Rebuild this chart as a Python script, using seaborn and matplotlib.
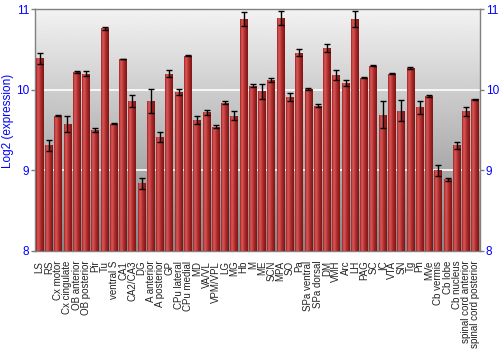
import numpy as np
import pandas as pd
import matplotlib
matplotlib.use("Agg")
import matplotlib.pyplot as plt
import seaborn as sns
from matplotlib.colors import LinearSegmentedColormap

regions = ["LS", "RS", "Cx motor", "Cx cingulate", "OB anterior", "OB posterior", "Pir", "Tu",
           "ventral S", "CA1", "CA2/CA3", "DG", "A anterior", "A posterior", "GP", "CPu lateral",
           "CPu medial", "MD", "VA/VL", "VPM/VPL", "LG", "MG", "Hb", "M",
           "ME", "SCN", "MPA", "SO", "Pa", "SPa ventral", "SPa dorsal", "DM",
           "VMH", "Arc", "LH", "PAG", "SC", "IC", "VTA", "SN",
           "Tg", "Pn", "MVe", "Cb vermis", "Cb lobe", "Cb nucleus",
           "spinal cord anterior", "spinal cord posterior"]
values = [10.39, 9.31, 9.68, 9.58, 10.22, 10.20, 9.50, 10.76,
          9.58, 10.38, 9.86, 8.84, 9.86, 9.41, 10.20, 9.97,
          10.42, 9.63, 9.72, 9.54, 9.84, 9.68, 10.88, 10.05,
          9.98, 10.12, 10.89, 9.91, 10.46, 10.01, 9.80, 10.52,
          10.18, 10.08, 10.88, 10.15, 10.30, 9.69, 10.20, 9.74,
          10.27, 9.78, 9.92, 9.00, 8.89, 9.31, 9.73, 9.88]
errors = [0.07, 0.066, 0.005, 0.10, 0.01, 0.03, 0.02, 0.02,
          0.01, 0.005, 0.08, 0.07, 0.15, 0.06, 0.04, 0.04,
          0.005, 0.05, 0.03, 0.02, 0.02, 0.05, 0.09, 0.015,
          0.09, 0.03, 0.09, 0.05, 0.04, 0.01, 0.02, 0.05,
          0.06, 0.04, 0.10, 0.005, 0.005, 0.17, 0.01, 0.13,
          0.015, 0.08, 0.01, 0.07, 0.02, 0.04, 0.06, 0.01]
yticks = [8, 9, 10, 11]

df = pd.DataFrame({"region": regions, "value": values, "err": errors})

sns.set_theme(style="white")
plt.rcParams['font.family'] = ['Liberation Sans', 'DejaVu Sans']

fig = plt.figure(figsize=(5, 3.5), dpi=100)
ax = fig.add_axes([0.07, 0.283, 0.89, 0.691])

sns.barplot(data=df, x="region", y="value", color="#b02a2a", width=0.85,
            errorbar=None, ax=ax, zorder=3, linewidth=0)

n = len(regions)
ax.set_xlim(-0.5, n - 0.5)
ax.set_ylim(8, 11)

# background gradient
bg = np.linspace(0.52, 0.95, 256).reshape(-1, 1)
ax.imshow(bg, cmap="gray", vmin=0, vmax=1, aspect="auto", origin="lower",
          extent=[-0.5, n - 0.5, 8, 11], zorder=0)

# bar shading gradient
grad = np.array([[0.0, 0.35, 0.55, 0.45, 0.3, 0.15, 0.0, -0.15, -0.3, -0.45]])
cmap = LinearSegmentedColormap.from_list("bar", ["#7a1515", "#b02a2a", "#d65a5a"])
for p in ax.patches:
    x0, y0 = p.get_x(), p.get_y()
    w, h = p.get_width(), p.get_height()
    im = ax.imshow(grad, cmap=cmap, vmin=-0.5, vmax=0.6, aspect="auto",
                   extent=[x0, x0 + w, 8, y0 + h], zorder=3.5, interpolation="bilinear")
    im.set_clip_path(p)

ax.errorbar(np.arange(n), values, yerr=errors, fmt="none", ecolor="black",
            elinewidth=1.0, capsize=2, capthick=1.0, zorder=5)

for yv in [9, 10]:
    ax.axhline(yv, color="white", lw=1.2, zorder=1)

ax.set_yticks(yticks)
ax.set_yticklabels([str(t) for t in yticks])
ax.tick_params(axis="y", colors="#808080", labelcolor="blue", labelsize=8.5,
               left=True, right=True, labelleft=True, labelright=True,
               length=3, width=1, pad=1)
ax.tick_params(axis="x", labelsize=7, labelcolor="#222222", bottom=False, pad=1)
plt.setp(ax.get_xticklabels(), rotation=90)
ax.set_xlabel("")
ax.set_ylabel("Log2 (expression)", color="blue", fontsize=8.5)
ax.yaxis.set_label_coords(-0.048, 0.537)
for s in ax.spines.values():
    s.set_color("#808080")
    s.set_linewidth(1)

fig.savefig("out.png", dpi=100)
